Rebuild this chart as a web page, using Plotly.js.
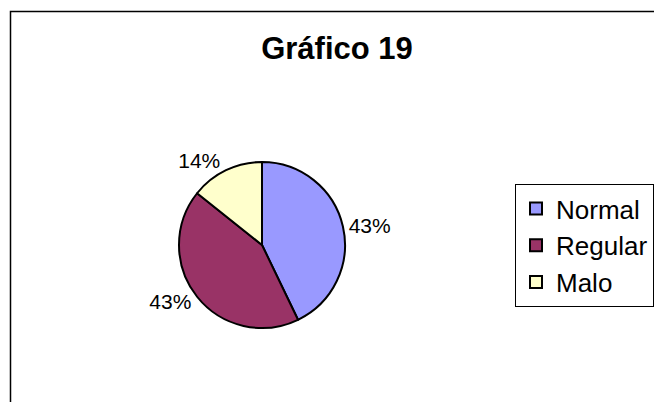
<!DOCTYPE html>
<html>
<head>
<meta charset="utf-8">
<script src="https://cdn.plot.ly/plotly-3.0.1.min.js"></script>
<style>
html,body{margin:0;padding:0;background:#fff;}
#chart{width:654px;height:402px;}
</style>
</head>
<body>
<div id="chart"></div>
<script>
var categories = ["Normal", "Regular", "Malo"];
var values = [3, 3, 1];
var sliceColors = ["#9999FF", "#993366", "#FFFFCC"];
var chartTitle = "Gráfico 19";

var W = 654, H = 402;
var cx = 262, cy = 245, r = 83;

var trace = {
  type: "pie",
  labels: categories,
  values: values,
  sort: false,
  direction: "clockwise",
  rotation: 0,
  marker: {colors: sliceColors, line: {color: "#000", width: 2}},
  textposition: "outside",
  texttemplate: "%{percent:.0%}",
  textfont: {family: "Arial, 'Liberation Sans', sans-serif", size: 21, color: "#000"},
  hoverinfo: "label+percent",
  domain: {x: [(cx - r) / W, (cx + r) / W], y: [(H - cy - r) / H, (H - cy + r) / H]},
  automargin: false
};

var layout = {
  width: W, height: H,
  margin: {l: 0, r: 0, t: 0, b: 0},
  paper_bgcolor: "#fff",
  plot_bgcolor: "#fff",
  font: {family: "Arial, 'Liberation Sans', sans-serif", color: "#000"},
  title: {
    text: "<b>" + chartTitle + "</b>",
    font: {size: 31, color: "#000", family: "Arial, 'Liberation Sans', sans-serif"},
    x: 337 / W, xanchor: "center",
    y: 1 - 48 / H, yanchor: "middle", yref: "container"
  },
  showlegend: true,
  legend: {
    x: 515 / W, xanchor: "left",
    y: 1 - 184 / H, yanchor: "top",
    bordercolor: "#000", borderwidth: 1,
    bgcolor: "#fff",
    font: {size: 26, color: "#000"},
    traceorder: "normal",
    itemwidth: 30
  },
  shapes: [{
    type: "rect", xref: "paper", yref: "paper",
    x0: 10.5 / W, x1: 1.05, y0: -0.05, y1: 1 - 11.5 / H,
    line: {color: "#000", width: 1.5}
  }]
};

Plotly.newPlot("chart", [trace], layout, {displayModeBar: false, staticPlot: true});
</script>
</body>
</html>
